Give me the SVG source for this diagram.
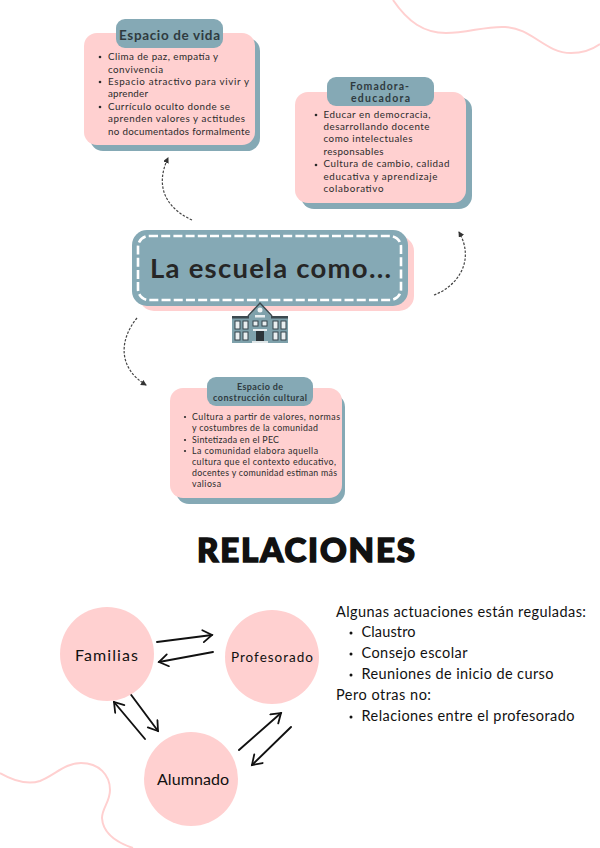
<svg xmlns="http://www.w3.org/2000/svg" width="600" height="848" viewBox="0 0 600 848">
<defs>
<marker id="ah" markerWidth="7" markerHeight="7" refX="5" refY="3" orient="auto" markerUnits="userSpaceOnUse"><path d="M0,0 L6,3 L0,6 Z" fill="#333"/></marker>
<marker id="hand" markerWidth="16" markerHeight="16" refX="12" refY="7" orient="auto" markerUnits="userSpaceOnUse"><path d="M3,1 L12,7 L3,13" fill="none" stroke="#111" stroke-width="1.800" stroke-linecap="round"/></marker>
</defs>
<style>
.t{font-family:"Lato","Noto Sans",sans-serif;fill:#2b2b2b}
.b{font-size:9.800px}
.s{font-size:8.800px}
.h{font-weight:700;fill:#2f3b40}
.pink{fill:#ffd0d0}.teal{fill:#85a9b5}
.r{font-family:"Lato","Noto Sans",sans-serif;fill:#111;font-size:14.500px}
.c{font-family:"Lato","Noto Sans",sans-serif;fill:#111}
.dash{fill:none;stroke:#444;stroke-width:1.200;stroke-dasharray:2.500 1.500;marker-end:url(#ah)}
.arr{fill:none;stroke:#111;stroke-width:1.900;stroke-linecap:round;marker-end:url(#hand)}
.wave{fill:none;stroke:#ffd0d0;stroke-width:2}
.win{fill:#e9eef0;stroke:#36454c;stroke-width:1}
</style>
<rect width="600" height="848" fill="#fff"/>
<path class="wave" d="M393,0 C408,22 424,33 446,33 C468,33 485,26 505,27 C532,28 545,53 571,53 C584,53 593,49 600,44"/>
<path class="wave" d="M0,773 C14,781 28,785 40,781 C55,775 65,763 81,763 C99,763 110,775 110,790 C110,802 102,808 102,818 C103,835 118,843 133,848"/>

<g id="node-espacio-vida">
<rect class="teal" x="90" y="38" width="170" height="113" rx="13"/>
<rect class="pink" x="84" y="33" width="171" height="112" rx="13"/>
<rect class="teal" x="116" y="19" width="107" height="29" rx="9"/>
<text class="t h" x="119" y="40" font-size="13.500" textLength="101">Espacio de vida</text>
<circle cx="100" cy="57" r="1.300" fill="#2b2b2b"/><circle cx="100" cy="82" r="1.300" fill="#2b2b2b"/><circle cx="100" cy="107" r="1.300" fill="#2b2b2b"/>
<text class="t b" x="108" y="60" textLength="110">Clima de paz, empatía y</text>
<text class="t b" x="108" y="73" textLength="55">convivencia</text>
<text class="t b" x="108" y="85" textLength="141">Espacio atractivo para vivir y</text>
<text class="t b" x="108" y="97" textLength="40">aprender</text>
<text class="t b" x="108" y="110" textLength="122">Currículo oculto donde se</text>
<text class="t b" x="108" y="122" textLength="137">aprenden valores y actitudes</text>
<text class="t b" x="108" y="135" textLength="142">no documentados formalmente</text>
</g>

<g id="node-formadora">
<rect class="teal" x="301" y="97" width="171" height="112" rx="13"/>
<rect class="pink" x="295" y="92" width="171" height="111" rx="13"/>
<rect class="teal" x="327" y="77" width="107" height="29" rx="9"/>
<text class="t h" x="350" y="90" font-size="10.500" textLength="59">Fomadora-</text>
<text class="t h" x="351" y="102" font-size="10.500" textLength="59">educadora</text>
<circle cx="316" cy="115" r="1.300" fill="#2b2b2b"/><circle cx="316" cy="165" r="1.300" fill="#2b2b2b"/>
<text class="t b" x="323.500" y="118" textLength="107">Educar en democracia,</text>
<text class="t b" x="323.500" y="130" textLength="106">desarrollando docente</text>
<text class="t b" x="323.500" y="142" textLength="89">como intelectuales</text>
<text class="t b" x="323.500" y="155" textLength="60">responsables</text>
<text class="t b" x="323.500" y="167" textLength="126">Cultura de cambio, calidad</text>
<text class="t b" x="323.500" y="180" textLength="114">educativa y aprendizaje</text>
<text class="t b" x="323.500" y="192" textLength="60">colaborativo</text>
</g>

<g id="node-escuela">
<rect class="pink" x="139" y="236" width="275" height="75" rx="15"/>
<rect class="teal" x="132" y="230" width="276" height="76" rx="15"/>
<rect x="138" y="236" width="263" height="64" rx="11" fill="none" stroke="#fff" stroke-width="2.600" stroke-dasharray="9 3.200"/>
<text class="t" x="150" y="278" font-size="27.500" font-weight="700" textLength="241" style="fill:#262626">La escuela como...</text>
</g>

<g id="icon-school">
<rect x="232" y="318" width="19" height="25" fill="#7fa1ab"/>
<rect x="270" y="318" width="18" height="25" fill="#7fa1ab"/>
<rect x="232" y="316" width="56" height="2.500" fill="#3c4a50"/>
<path d="M249,316 L260,303 L271,316 L271,343 L249,343 Z" fill="#7fa1ab"/>
<path d="M248,316 L260,303 L272,316" fill="none" stroke="#3c4a50" stroke-width="1.500"/>
<circle cx="260" cy="310" r="2.500" fill="#f0f3f4"/>
<rect x="255" y="315" width="10" height="2.500" fill="#e9eef0"/>
<rect class="win" x="235" y="321" width="5" height="8"/><rect class="win" x="243" y="321" width="5" height="8"/><rect class="win" x="235" y="332" width="5" height="8"/><rect class="win" x="243" y="332" width="5" height="8"/>
<rect class="win" x="273" y="321" width="5" height="8"/><rect class="win" x="281" y="321" width="5" height="8"/><rect class="win" x="273" y="332" width="5" height="8"/><rect class="win" x="281" y="332" width="5" height="8"/>
<rect class="win" x="253" y="321" width="5" height="5"/><rect class="win" x="262" y="321" width="5" height="5"/>
<rect x="253" y="329" width="14" height="2" fill="#e9eef0"/>
<rect x="256" y="331" width="8" height="10" fill="#2c3438"/>
<rect x="252" y="341" width="16" height="2" fill="#dfe6e8"/>
</g>

<g id="node-construccion">
<rect class="teal" x="176" y="394" width="169" height="110" rx="13"/>
<rect class="pink" x="170" y="388" width="172" height="110" rx="13"/>
<rect class="teal" x="207" y="377" width="106" height="29" rx="9"/>
<text class="t h" x="237" y="390" font-size="9" textLength="46">Espacio de</text>
<text class="t h" x="213" y="401" font-size="9" textLength="94">construcción cultural</text>
<circle cx="185" cy="417" r="1.100" fill="#2b2b2b"/><circle cx="185" cy="440" r="1.100" fill="#2b2b2b"/><circle cx="185" cy="451" r="1.100" fill="#2b2b2b"/>
<text class="t s" x="192" y="420" textLength="148">Cultura a partir de valores, normas</text>
<text class="t s" x="192" y="431" textLength="126">y costumbres de la comunidad</text>
<text class="t s" x="192" y="443" textLength="87">Sintetizada en el PEC</text>
<text class="t s" x="192" y="454" textLength="126">La comunidad elabora aquella</text>
<text class="t s" x="192" y="465" textLength="144">cultura que el contexto educativo,</text>
<text class="t s" x="192" y="476" textLength="145">docentes y comunidad estiman más</text>
<text class="t s" x="192" y="487" textLength="29">valiosa</text>
</g>

<g id="connectors">
<path class="dash" d="M192,220 C170,210 153,190 168,158"/>
<path class="dash" d="M434,295 C456,287 476,262 459,232"/>
<path class="dash" d="M137,318 C119,340 118,368 146,385"/>
<path class="arr" d="M157,642 L212,635"/>
<path class="arr" d="M213,652 L159,662"/>
<path class="arr" d="M129,692 L158,731"/>
<path class="arr" d="M145,739 L114,702"/>
<path class="arr" d="M239,750 L281,713"/>
<path class="arr" d="M291,727 L252,765"/>
</g>

<text id="title" x="197" y="562" font-family="'Lato','Noto Sans',sans-serif" font-size="33" font-weight="900" textLength="218" fill="#111" stroke="#111" stroke-width="1.500">RELACIONES</text>

<g id="node-familias"><circle class="pink" cx="107" cy="654" r="47"/><text class="c" x="75" y="661" font-size="16" textLength="63">Familias</text></g>
<g id="node-profesorado"><circle class="pink" cx="272" cy="657" r="47"/><text class="c" x="231" y="662" font-size="13.500" textLength="82">Profesorado</text></g>
<g id="node-alumnado"><circle class="pink" cx="191" cy="779" r="47"/><text class="c" x="157" y="785" font-size="16" textLength="72">Alumnado</text></g>

<g id="text-actuaciones">
<text class="r" x="336" y="617" textLength="250">Algunas actuaciones están reguladas:</text>
<circle cx="351" cy="633" r="1.500" fill="#111"/><circle cx="351" cy="654" r="1.500" fill="#111"/><circle cx="351" cy="675" r="1.500" fill="#111"/><circle cx="351" cy="717" r="1.500" fill="#111"/>
<text class="r" x="361.500" y="637" textLength="54">Claustro</text>
<text class="r" x="361.500" y="658" textLength="106">Consejo escolar</text>
<text class="r" x="361.500" y="679" textLength="192">Reuniones de inicio de curso</text>
<text class="r" x="336" y="700" textLength="95">Pero otras no:</text>
<text class="r" x="361.500" y="721" textLength="213">Relaciones entre el profesorado</text>
</g>
</svg>
